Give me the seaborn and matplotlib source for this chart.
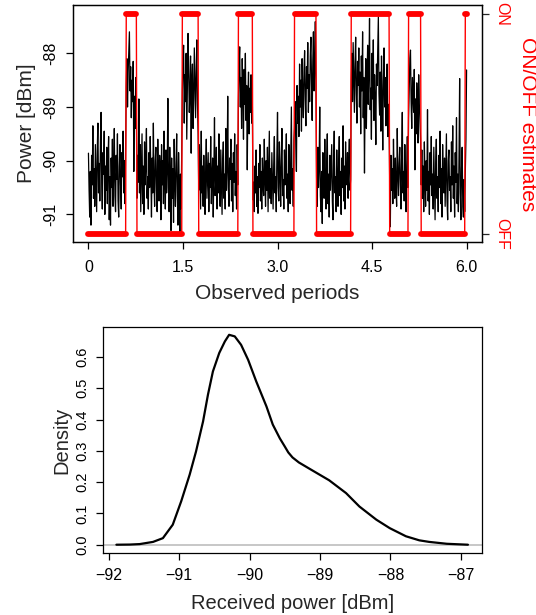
import numpy as np
import matplotlib
matplotlib.use("Agg")
import matplotlib.pyplot as plt
import seaborn as sns

# ── data ──────────────────────────────────────────────────
DT = 0.01  # sampling step, observed periods

# received power [dBm], one list per run of the ON/OFF estimate
off_1 = [-89.86, -90.55, -91.05, -90.20, -91.20, -89.90, -90.45, -89.35, -90.70, -90.15,
         -90.85, -89.70, -90.35, -90.95, -89.80, -89.30, -90.60, -90.05, -90.75, -89.65,
         -89.10, -90.40, -90.90, -89.85, -90.25, -89.45, -91.00, -90.10, -90.55, -89.75,
         -90.80, -90.00, -89.55, -91.10, -90.30, -91.20, -89.95, -90.50, -89.60, -90.85,
         -90.20, -89.40, -90.65, -90.95, -89.90, -90.35, -89.50, -90.75, -91.05, -90.10,
         -89.70, -90.45, -90.90, -89.85, -90.30, -89.45, -90.60, -90.00, -90.80, -89.75]
on_1 = [-88.60, -88.10, -89.00, -88.35, -87.95, -87.60, -88.70, -88.25, -89.20, -88.50,
        -88.90, -88.15, -90.20, -88.80, -89.40, -88.45, -89.10]
off_2 = [-90.70, -89.90, -90.40, -88.85, -90.60, -89.70, -90.95, -90.25, -89.50, -90.80,
         -90.10, -91.00, -89.65, -90.45, -90.05, -89.40, -90.70, -90.30, -90.90, -89.85,
         -90.50, -89.55, -90.20, -91.05, -89.95, -90.60, -89.30, -90.40, -90.85, -90.00,
         -89.75, -90.55, -90.95, -89.60, -90.30, -90.75, -89.90, -90.15, -91.10, -89.70,
         -90.45, -90.00, -90.80, -89.45, -90.35, -90.90, -89.80, -90.60, -90.20, -88.84,
         -90.50, -90.95, -89.75, -90.35, -91.30, -89.95, -90.70, -90.15, -91.15, -89.60,
         -90.40, -90.85, -90.05, -89.50, -90.65, -91.20, -89.85, -90.45, -91.35, -90.25,
         -90.90, -89.75]
on_2 = [-88.70, -88.10, -87.85, -89.30, -88.40, -88.90, -88.00, -89.60, -88.55, -87.63,
        -88.30, -89.10, -88.75, -88.05, -89.86, -88.50, -88.20, -89.40, -88.85, -87.90,
        -88.60, -89.20, -88.35, -87.75, -88.95, -89.50]
off_3 = [-90.55, -89.70, -90.30, -90.90, -89.45, -90.60, -90.10, -90.85, -89.90, -90.40,
         -91.00, -90.15, -89.60, -90.70, -90.25, -89.85, -90.95, -90.05, -90.50, -89.55,
         -90.80, -90.30, -89.95, -91.05, -90.20, -89.20, -90.65, -90.40, -89.75, -90.90,
         -90.10, -90.60, -89.50, -90.35, -90.85, -89.80, -90.45, -91.00, -90.00, -89.65,
         -90.70, -90.25, -90.90, -89.40, -90.55, -90.15, -88.80, -90.50, -90.85, -89.95,
         -90.35, -89.60, -90.75, -90.05, -90.95, -89.85, -90.40, -89.50, -90.65, -90.20,
         -90.90, -89.70, -90.45]
on_3 = [-88.90, -88.20, -87.88, -89.00, -88.45, -89.40, -88.10, -88.70, -89.60, -88.30,
        -88.95, -88.00, -89.25, -88.60, -90.17, -88.80, -88.35, -89.50, -88.65, -89.10,
        -88.40, -89.30, -88.75]
off_4 = [-90.73, -90.40, -90.95, -90.10, -90.60, -89.80, -90.85, -90.30, -90.98, -90.05,
         -90.50, -89.70, -90.75, -90.20, -90.90, -89.95, -90.45, -90.65, -89.60, -90.35,
         -90.85, -90.00, -90.55, -89.75, -90.95, -90.25, -89.45, -90.70, -90.15, -90.80,
         -89.85, -90.40, -90.90, -90.05, -89.55, -90.60, -90.30, -90.95, -89.90, -89.10,
         -90.50, -90.75, -89.65, -90.20, -90.85, -90.00, -89.40, -90.65, -90.35, -90.90,
         -89.80, -90.45, -90.10, -89.50, -90.70, -90.25, -90.95, -89.70, -90.40, -90.80,
         -89.95, -89.00, -90.55, -90.15, -90.85, -89.60]
on_4 = [-89.40, -88.90, -89.70, -90.20, -88.60, -89.30, -88.80, -89.55, -88.20, -89.00,
        -88.50, -89.45, -88.10, -88.75, -89.20, -88.35, -87.95, -88.85, -89.35, -88.25,
        -88.65, -87.80, -89.10, -88.40, -88.90, -88.05, -87.70, -88.55, -89.25, -88.15,
        -87.60, -88.70, -88.30, -87.41, -88.60]
off_5 = [-90.30, -90.85, -89.75, -90.50, -90.10, -89.00, -90.65, -90.95, -90.20, -91.17,
         -89.85, -90.45, -90.70, -89.60, -90.35, -90.90, -90.05, -89.50, -90.80, -90.25,
         -91.05, -89.90, -90.55, -90.15, -89.70, -90.75, -91.10, -90.00, -89.45, -90.60,
         -90.30, -90.95, -89.80, -90.40, -90.85, -90.05, -89.55, -90.65, -90.20, -91.00,
         -89.95, -90.50, -89.35, -90.75, -90.10, -90.90, -89.65, -90.45, -90.25, -89.85,
         -90.70, -90.00, -89.60, -90.55, -90.35]
on_5 = [-88.50, -88.00, -88.90, -87.80, -88.40, -89.10, -88.20, -87.70, -88.75, -89.30,
        -88.15, -88.60, -87.90, -89.00, -88.35, -89.50, -88.05, -88.70, -87.60, -89.20,
        -88.45, -90.23, -88.80, -88.10, -89.40, -88.55, -87.85, -88.95, -88.30, -87.35,
        -89.05, -88.65, -89.60, -88.00, -88.85, -87.75, -89.25, -88.40, -88.90, -89.70,
        -88.20, -88.60, -87.95, -87.32, -88.75, -89.15, -88.35, -89.45, -88.05, -88.80,
        -89.80, -88.50, -87.90, -89.00, -88.45, -89.35, -88.70, -88.20, -89.55, -88.95,
        -89.20]
off_6 = [-90.40, -91.23, -89.90, -90.55, -90.15, -90.80, -89.60, -90.35, -90.70, -89.95,
         -90.50, -90.85, -89.40, -90.25, -90.65, -90.05, -89.75, -90.45, -90.90, -89.85,
         -89.10, -90.60, -90.20, -90.75, -89.70, -90.40, -90.95, -90.10, -89.55, -90.50]
on_6 = [-89.20, -88.60, -88.10, -87.94, -88.90, -89.40, -88.45, -88.75, -89.10, -88.30,
        -90.17, -88.85, -89.50, -88.55, -89.00, -89.67, -88.40, -88.95, -89.30, -89.60]
off_7 = [-90.45, -89.80, -90.70, -90.10, -90.95, -89.65, -90.35, -90.85, -90.00, -90.55,
         -89.05, -90.75, -90.20, -91.00, -89.85, -90.45, -89.55, -90.65, -90.25, -90.90,
         -89.75, -90.40, -91.10, -90.05, -89.60, -90.70, -90.30, -90.95, -89.90, -90.50,
         -89.45, -90.80, -90.15, -91.05, -89.70, -90.35, -90.60, -89.95, -90.85, -90.20,
         -89.50, -90.75, -91.10, -90.00, -89.80, -90.55, -90.30, -90.95, -89.65, -90.45,
         -89.35, -90.70, -90.10, -91.05, -89.85, -90.40, -89.20, -90.80, -90.25, -90.95,
         -89.90, -88.47, -90.60, -91.10, -90.15, -89.75, -90.85, -91.05, -90.35, -90.95]
on_7 = [-90.20, -89.60, -88.31]

runs = [(off_1, 0), (on_1, 1), (off_2, 0), (on_2, 1), (off_3, 0), (on_3, 1), (off_4, 0),
        (on_4, 1), (off_5, 0), (on_5, 1), (off_6, 0), (on_6, 1), (off_7, 0), (on_7, 1)]

# density of received power
dens_x = [-91.89, -91.70, -91.56, -91.37, -91.23, -91.09, -90.97, -90.85, -90.76, -90.66,
          -90.59, -90.52, -90.43, -90.35, -90.29, -90.21, -90.12, -90.02, -89.905, -89.76,
          -89.67, -89.57, -89.50, -89.45, -89.39, -89.30, -89.15, -88.87, -88.63, -88.44,
          -88.20, -88.01, -87.78, -87.59, -87.45, -87.20, -86.90]
dens_y = [0.0, 0.0005, 0.002, 0.009, 0.021, 0.064, 0.139, 0.224, 0.298, 0.394,
          0.48, 0.554, 0.613, 0.65, 0.671, 0.666, 0.639, 0.591, 0.522, 0.442,
          0.384, 0.340, 0.314, 0.295, 0.279, 0.263, 0.243, 0.206, 0.165, 0.122,
          0.08, 0.053, 0.027, 0.014, 0.009, 0.003, 0.0]

top_xticks = [0, 1.5, 3.0, 4.5, 6.0]
top_xlabels = ["0", "1.5", "3.0", "4.5", "6.0"]
top_yticks = [-91, -90, -89, -88]
top_ylabels = ["-91", "-90", "-89", "-88"]
bot_xticks = [-92, -91, -90, -89, -88, -87]
bot_xlabels = ["\u221292", "\u221291", "\u221290", "\u221289", "\u221288", "\u221287"]
bot_yticks = [0.0, 0.1, 0.2, 0.3, 0.4, 0.5, 0.6]

power = np.concatenate([np.array(r) for r, _ in runs])
state = np.concatenate([np.full(len(r), s) for r, s in runs])
times = np.arange(len(power)) * DT

# ── style ─────────────────────────────────────────────────
sns.set_style("ticks")
plt.rcParams["font.family"] = ["Liberation Sans", "DejaVu Sans"]
plt.rcParams["axes.linewidth"] = 0.9
RED = "#ff0000"

fig = plt.figure(figsize=(5.36, 6.15), dpi=100)

# ── top: power trace with ON/OFF estimates ────────────────
ax = fig.add_axes([0.1368, 0.606, 0.7619, 0.3859])
sns.lineplot(x=times, y=power, ax=ax, color="black", lw=0.9, estimator=None, sort=False)
ax.set_xlim(-0.24, 6.24)
ax.set_ylim(-91.52, -87.10)
ax.set_xticks(top_xticks)
ax.set_xticklabels(top_xlabels, fontsize=11.5)
ax.set_yticks(top_yticks)
ax.set_yticklabels(top_ylabels, fontsize=11.5, rotation=90, va="center")
ax.tick_params(axis="x", length=5, width=0.9, pad=8, colors="black")
ax.tick_params(axis="y", length=5, width=0.9, pad=6, colors="black")
ax.set_xlabel("Observed periods", fontsize=15, labelpad=6)
ax.set_ylabel("Power [dBm]", fontsize=15, labelpad=5)

ax2 = ax.twinx()
sns.lineplot(x=times, y=state, ax=ax2, color=RED, lw=1.0, estimator=None, sort=False)
# thick bars over each run of the estimate
idx = 0
for r, s in runs:
    t0, t1 = times[idx], times[idx + len(r) - 1]
    ax2.plot([t0, t1], [s, s], color=RED, lw=4.2, solid_capstyle="round")
    idx += len(r)
ax2.set_ylim(-0.04, 1.04)
ax2.set_yticks([0, 1])
ax2.set_yticklabels(["OFF", "ON"], fontsize=11.5, rotation=-90, va="center", color=RED)
ax2.tick_params(length=5, width=0.9, pad=4)
ax2.set_ylabel("ON/OFF estimates", fontsize=15, color=RED, rotation=-90,
               va="bottom", labelpad=6)
ax2.set_xlim(-0.24, 6.24)

# ── bottom: density of received power ─────────────────────
bx = fig.add_axes([0.1922, 0.1008, 0.7071, 0.3675])
bx.axhline(0, color="#bebebe", lw=1.2, zorder=1)
sns.lineplot(x=dens_x, y=dens_y, ax=bx, color="black", lw=1.6, estimator=None, sort=False)
bx.set_xlim(-92.08, -86.70)
bx.set_ylim(-0.0265, 0.696)
bx.set_xticks(bot_xticks)
bx.set_xticklabels(bot_xlabels, fontsize=11.5)
bx.set_yticks(bot_yticks)
bx.set_yticklabels([f"{v:.1f}" for v in bot_yticks], fontsize=10.5, rotation=90, va="center")
bx.tick_params(axis="x", length=5, width=0.9, pad=6, colors="black")
bx.tick_params(axis="y", length=5, width=0.9, pad=5, colors="black")
bx.set_xlabel("Received power [dBm]", fontsize=14.5, labelpad=8)
bx.set_ylabel("Density", fontsize=14.5, labelpad=3)

for a in (ax, ax2, bx):
    for sp in a.spines.values():
        sp.set_visible(True)
        sp.set_color("black")

fig.savefig("out.png", dpi=100)
plt.close(fig)
